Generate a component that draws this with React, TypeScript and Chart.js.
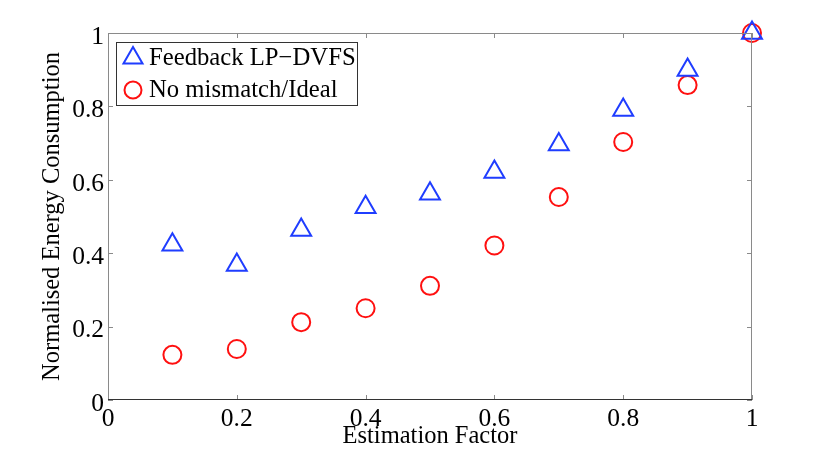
import React, { useRef, useEffect } from 'react';
import { Chart, registerables } from 'chart.js';

Chart.register(...registerables);

const estimationFactor = [0.1, 0.2, 0.3, 0.4, 0.5, 0.6, 0.7, 0.8, 0.9, 1.0];
const feedbackLpDvfs = [0.423, 0.368, 0.463, 0.525, 0.562, 0.621, 0.696, 0.79, 0.899, 1.0];
const noMismatchIdeal = [0.123, 0.139, 0.212, 0.25, 0.311, 0.421, 0.553, 0.703, 0.858, 1.0];
const tickValues = [0, 0.2, 0.4, 0.6, 0.8, 1];

const FONT = '"Liberation Serif", "Times New Roman", serif';
const BLUE = '#1f3dff';
const RED = '#ff1010';

// box round the plot, with MATLAB-style inward ticks on every side
const framePlugin = {
  id: 'frame',
  afterDatasetsDraw(chart) {
    const { ctx, chartArea: a, scales } = chart;
    ctx.save();
    ctx.lineWidth = 1;
    ctx.strokeStyle = '#8a8a8a';
    ctx.beginPath();
    ctx.moveTo(a.left + 0.5, a.bottom);
    ctx.lineTo(a.left + 0.5, a.top + 0.5);
    ctx.lineTo(a.right - 0.5, a.top + 0.5);
    ctx.lineTo(a.right - 0.5, a.bottom);
    ctx.stroke();
    const len = 5;
    tickValues.forEach((v) => {
      const x = Math.round(scales.x.getPixelForValue(v)) + 0.5;
      const y = Math.round(scales.y.getPixelForValue(v)) + 0.5;
      ctx.beginPath();
      ctx.moveTo(x, a.bottom);
      ctx.lineTo(x, a.bottom - len);
      ctx.moveTo(x, a.top);
      ctx.lineTo(x, a.top + len);
      ctx.moveTo(a.left, y);
      ctx.lineTo(a.left + len, y);
      ctx.moveTo(a.right, y);
      ctx.lineTo(a.right - len, y);
      ctx.stroke();
    });
    ctx.strokeStyle = '#333';
    ctx.beginPath();
    ctx.moveTo(a.left, a.bottom - 0.5);
    ctx.lineTo(a.right, a.bottom - 0.5);
    ctx.stroke();
    ctx.restore();
  },
};

// legend box drawn inside the plot, top left
const insideLegendPlugin = {
  id: 'insideLegend',
  afterDraw(chart) {
    const { ctx, chartArea: a } = chart;
    const x0 = a.left + 8;
    const y0 = a.top + 9;
    const w = 241;
    const h = 63;
    ctx.save();
    ctx.fillStyle = '#fff';
    ctx.fillRect(x0, y0, w, h);
    ctx.strokeStyle = '#333';
    ctx.lineWidth = 1;
    ctx.strokeRect(x0 + 0.5, y0 + 0.5, w, h);
    ctx.font = '24.7px ' + FONT;
    ctx.textBaseline = 'middle';
    ctx.fillStyle = '#000';
    chart.data.datasets.forEach((ds, i) => {
      const cy = y0 + 16 + i * 32;
      const cx = x0 + 17;
      ctx.strokeStyle = ds.borderColor;
      ctx.lineWidth = 2;
      ctx.beginPath();
      if (ds.pointStyle === 'triangle') {
        const r = 11;
        ctx.moveTo(cx, cy - r);
        ctx.lineTo(cx + r * Math.sin(Math.PI / 3), cy + r / 2);
        ctx.lineTo(cx - r * Math.sin(Math.PI / 3), cy + r / 2);
        ctx.closePath();
      } else {
        ctx.arc(cx, cy, 8.5, 0, Math.PI * 2);
      }
      ctx.stroke();
      ctx.fillText(ds.label, x0 + 33, cy + 1);
    });
    ctx.restore();
  },
};

const EnergyChart = () => {
  const chartRef = useRef(null);

  useEffect(() => {
    document.body.style.margin = '0';
    const ctx = chartRef.current.getContext('2d');
    const tickFont = { family: FONT, size: 25.5 };
    const titleFont = { family: FONT, size: 24.5 };
    const myChart = new Chart(ctx, {
      type: 'scatter',
      data: {
        datasets: [
          {
            label: 'Feedback LP\u2212DVFS',
            data: estimationFactor.map((x, i) => ({ x, y: feedbackLpDvfs[i] })),
            pointStyle: 'triangle',
            pointRadius: 11.5,
            borderColor: BLUE,
            backgroundColor: 'rgba(0,0,0,0)',
            borderWidth: 2,
          },
          {
            label: 'No mismatch/Ideal',
            data: estimationFactor.map((x, i) => ({ x, y: noMismatchIdeal[i] })),
            pointStyle: 'circle',
            pointRadius: 9,
            borderColor: RED,
            backgroundColor: 'rgba(0,0,0,0)',
            borderWidth: 2,
          },
        ],
      },
      options: {
        responsive: false,
        animation: false,
        clip: false,
        layout: { padding: { top: 33, right: 78, left: 38, bottom: 0 } },
        plugins: {
          legend: { display: false },
          tooltip: { enabled: false },
        },
        scales: {
          x: {
            type: 'linear',
            min: 0,
            max: 1,
            afterFit: (s) => { s.height = 51; },
            afterBuildTicks: (s) => { s.ticks = tickValues.map((v) => ({ value: v })); },
            grid: { display: false, drawTicks: false, tickLength: 0 },
            border: { display: false },
            ticks: { font: tickFont, color: '#000', padding: 4, maxRotation: 0, callback: (v) => String(v) },
            title: { display: true, text: 'Estimation Factor', font: titleFont, color: '#000', padding: 0 },
          },
          y: {
            type: 'linear',
            min: 0,
            max: 1,
            afterFit: (s) => { s.width = 70; },
            afterBuildTicks: (s) => { s.ticks = tickValues.map((v) => ({ value: v })); },
            grid: { display: false, drawTicks: false, tickLength: 0 },
            border: { display: false },
            ticks: { font: tickFont, color: '#000', padding: 4, labelOffset: 4, callback: (v) => String(v) },
            title: { display: true, text: 'Normalised Energy Consumption', font: titleFont, color: '#000', padding: 0 },
          },
        },
      },
      plugins: [framePlugin, insideLegendPlugin],
    });

    return () => myChart.destroy();
  }, []);

  return (
    <div style={{ width: 830, height: 451, background: '#fff' }}>
      <canvas ref={chartRef} width="830" height="451"></canvas>
    </div>
  );
};

export default function App() {
  return <EnergyChart />;
}
